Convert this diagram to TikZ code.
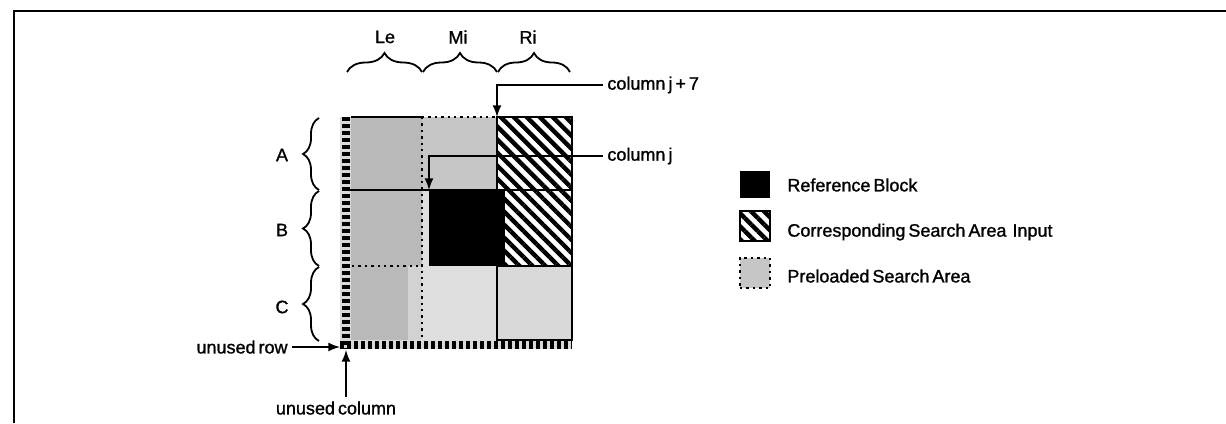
\documentclass[tikz,border=0pt]{standalone}
\usepackage{fontspec}
\setmainfont{Liberation Sans}[WordSpace=0.6,FakeBold=1.2]
\usetikzlibrary{calc,patterns.meta,decorations.pathreplacing}

\begin{document}
\begin{tikzpicture}[x=0.5pt,y=-0.5pt,
    lbl/.style={font=\fontsize{9}{10}\selectfont, inner sep=2pt},
    hatch/.style={pattern={Lines[angle=-45,distance=4.6pt,line width=2.2pt]}},
    brc/.style={decorate,decoration={brace,amplitude=#1},line width=0.9pt},
    conn/.style={-latex,line width=1pt},
    dots/.style={dotted,line width=1.2pt}]
    \useasboundingbox (0,0) rectangle (1226,423);
    % Draw the frame
    \draw[line width=1pt] (14,423) -- (14,10.5) -- (1226,10.5);

    % Draw the unused column and row
    \fill[gray!30] (340,117) rectangle (351,349);
    \fill[gray!30] (340,340) rectangle (572,349);
    \draw[line width=4pt, dash pattern=on 2pt off 1.5pt] (345.5,117) -- (345.5,349);
    \draw[line width=4pt, dash pattern=on 2pt off 1.5pt] (340,344.5) -- (572,344.5);

    % Draw the preloaded cells
    \fill[gray!55] (351,117) rectangle (422,340);
    \fill[gray!35] (408,266) rectangle (422,340);
    \fill[gray!45] (422,117) rectangle (497,190);
    \fill[gray!25] (422,190) rectangle (497,340);
    \fill[gray!30] (497,266) rectangle (572,340);

    % Draw the reference block and the search input
    \fill[black] (429,190) rectangle (505,266);
    \path[hatch] (497,117) rectangle (572,190);
    \path[hatch] (505,190) rectangle (572,266);

    % Draw the cell borders
    \draw[line width=1pt] (351,117) -- (422,117);
    \draw[dots] (422,117) -- (497,117);
    \draw[dots] (422,117) -- (422,340);
    \draw[dots] (352,266) -- (422,266);
    \draw[line width=1pt] (348,190) -- (572,190);
    \draw[line width=1pt] (497,266) -- (572,266);
    \draw[line width=1.2pt] (497,117) rectangle (572,340);

    % Draw the column braces
    \draw[brc=9.5pt] (347,72) -- (422,72);
    \draw[brc=9.5pt] (423,72) -- (497,72);
    \draw[brc=9.5pt] (498,72) -- (570,72);
    \node[lbl] (le) at (385,37) {Le};
    \node[lbl] (mi) at (458,37) {Mi};
    \node[lbl] (ri) at (528,37) {Ri};

    % Draw the row braces
    \draw[brc=8pt] (319,190) -- (319,118);
    \draw[brc=8pt] (319,266) -- (319,191);
    \draw[brc=8pt] (319,341) -- (319,267);
    \node[lbl] (ra) at (282,155) {A};
    \node[lbl] (rb) at (282,230) {B};
    \node[lbl] (rc) at (282,307) {C};

    % Draw the pointers
    \coordinate (ritop) at (497,117);
    \coordinate (blktop) at (429,190);
    \coordinate (corner) at (340,347);
    \coordinate (cornerb) at (346,350);
    \node[lbl,anchor=west] (colj7) at (603,85) {column j + 7};
    \draw[conn] (colj7.west) -| (ritop);
    \node[lbl,anchor=west] (colj) at (603,156) {column j};
    \draw[conn] (colj.west) -| (blktop);
    \node[lbl,anchor=east] (urow) at (292,347) {unused row};
    \draw[conn] (urow.east) -- (corner);
    \node[lbl] (ucol) at (336,408) {unused column};
    \draw[conn] (ucol.north -| cornerb) -- (cornerb);

    % Draw the legend
    \node[fill=black,inner sep=0,minimum width=15pt,minimum height=13.5pt] (kref) at (755,184.5) {};
    \node[lbl,anchor=west] (tref) at (783,185) {Reference Block};
    \node[hatch,draw,line width=1pt,inner sep=0,minimum width=15pt,minimum height=15pt] (kin) at (755,226) {};
    \node[lbl,anchor=west] (tin) at (783,232) {Corresponding Search Area \ Input};
    \node[fill=gray!45,draw,dots,inner sep=0,minimum width=15pt,minimum height=15pt] (kpre) at (755,273) {};
    \node[lbl,anchor=west] (tpre) at (783,276) {Preloaded Search Area};
\end{tikzpicture}
\end{document}
